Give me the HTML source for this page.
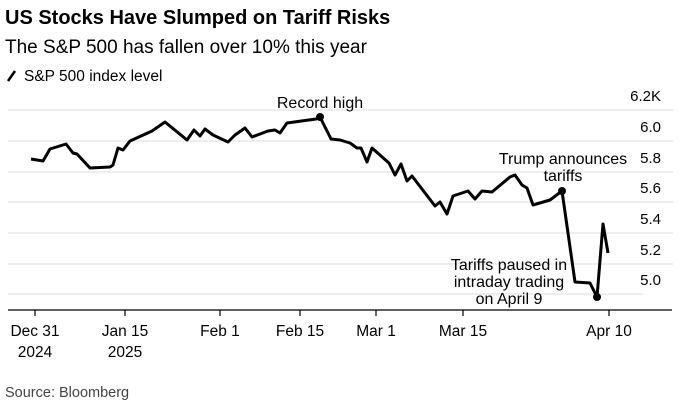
<!DOCTYPE html><html><head><style>body{margin:0;background:#fff;width:698px;height:414px;overflow:hidden;font-family:"Liberation Sans",sans-serif;color:#000}</style></head><body>
<svg width="698" height="414" xmlns="http://www.w3.org/2000/svg" font-family="Liberation Sans, sans-serif">
<text x="5" y="24" font-size="20" font-weight="bold">US Stocks Have Slumped on Tariff Risks</text>
<text x="5" y="53" font-size="19">The S&amp;P 500 has fallen over 10% this year</text>
<line x1="8" y1="81" x2="15" y2="71" stroke="#000" stroke-width="2.5"/>
<text x="24" y="81" font-size="15.5">S&amp;P 500 index level</text>
<g stroke="#ddd" stroke-width="1">
<line x1="8" y1="110" x2="673" y2="110"/><line x1="8" y1="141" x2="673" y2="141"/><line x1="8" y1="172" x2="673" y2="172"/><line x1="8" y1="202" x2="673" y2="202"/><line x1="8" y1="233" x2="673" y2="233"/><line x1="8" y1="264" x2="673" y2="264"/><line x1="8" y1="294" x2="643" y2="294"/></g>
<g font-size="15" text-anchor="end"><text x="661" y="101">6.2K</text><text x="661" y="132">6.0</text><text x="661" y="163">5.8</text><text x="661" y="193">5.6</text><text x="661" y="224">5.4</text><text x="661" y="255">5.2</text><text x="661" y="285">5.0</text></g>
<line x1="8" y1="310" x2="672" y2="310" stroke="#000" stroke-width="1.2"/>
<g stroke="#000" stroke-width="1.2"><line x1="35" y1="310" x2="35" y2="316"/><line x1="125" y1="310" x2="125" y2="316"/><line x1="220" y1="310" x2="220" y2="316"/><line x1="300" y1="310" x2="300" y2="316"/><line x1="376" y1="310" x2="376" y2="316"/><line x1="463" y1="310" x2="463" y2="316"/><line x1="609" y1="310" x2="609" y2="316"/></g>
<g font-size="15.5" text-anchor="middle"><text x="35" y="336">Dec 31</text><text x="35" y="357">2024</text><text x="125" y="336">Jan 15</text><text x="125" y="357">2025</text><text x="220" y="336">Feb 1</text><text x="300" y="336">Feb 15</text><text x="376" y="336">Mar 1</text><text x="463" y="336">Mar 15</text><text x="609" y="336">Apr 10</text></g>
<polyline fill="none" stroke="#000" stroke-width="3" stroke-linejoin="round" points="31,159 43,161 50,149 66,144 73,153 77,154 90,168 110,167 113,165 118,148 123,150 130,141 152,131 165,122 187,140 194,130 200,136 205,129 213,135 228,142 235,135 245,128 252,137 268,131 275,130 280,133 287,123 316,119 320,117 331,139 340,140 350,143 357,148 361,148 367,162 372,148 389,163 395,175 401,164 407,181 412,176 435,206 440,202 447,214 453,196 468,191 475,199 482,191 492,192 510,177 515,175 522,185 527,188 533,205 550,200 562,191 575,282 590,283 597,297 603,224 608,253"/>
<circle cx="320" cy="117" r="4"/><circle cx="562" cy="191" r="4"/><circle cx="597" cy="297" r="4"/>
<g font-size="16" text-anchor="middle"><text x="320" y="108">Record high</text><text x="563" y="164">Trump announces</text><text x="563" y="181">tariffs</text><text x="509" y="270">Tariffs paused in</text><text x="509" y="287">intraday trading</text><text x="509" y="304">on April 9</text></g>
<text x="5" y="397" font-size="14.5" fill="#444">Source: Bloomberg</text>
</svg></body></html>
